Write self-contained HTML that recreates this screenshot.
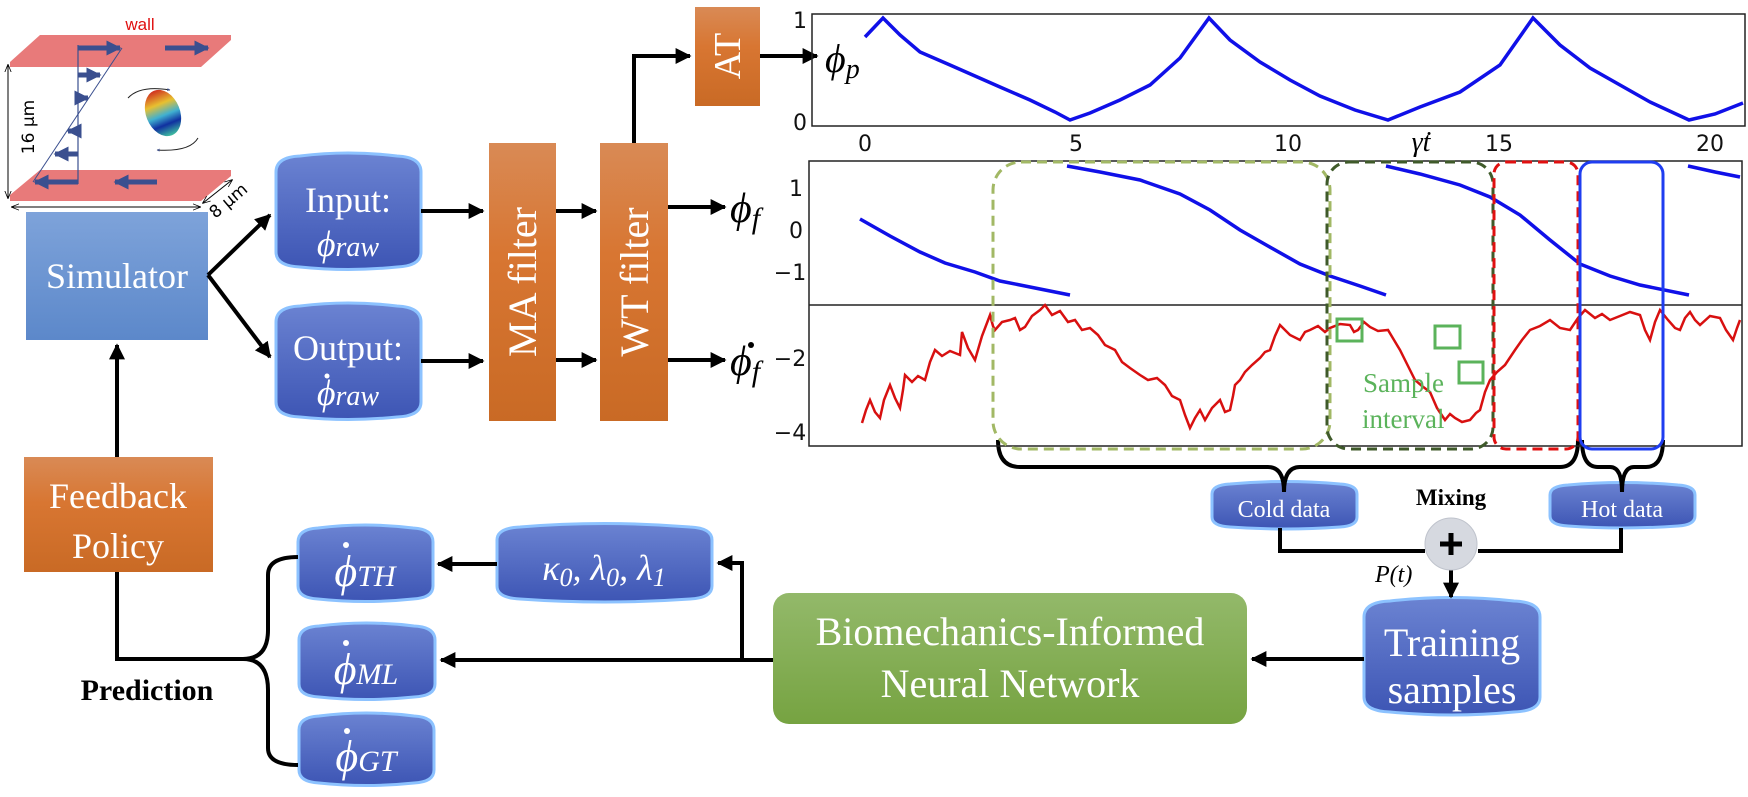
<!DOCTYPE html>
<html><head><meta charset="utf-8"><style>
html,body{margin:0;padding:0;background:#fff;}
svg{display:block;}
.w{fill:#fff;font-family:"Liberation Serif",serif;}
.m{font-family:"Liberation Serif",serif;font-style:italic;}
.ax{font-family:"DejaVu Sans","Liberation Sans",sans-serif;font-size:22px;fill:#111;}
</style></head><body>
<svg width="1748" height="797" viewBox="0 0 1748 797" xmlns="http://www.w3.org/2000/svg">
<defs>
<linearGradient id="cyl" x1="0" y1="0" x2="0" y2="1"><stop offset="0" stop-color="#6b83d2"/><stop offset="1" stop-color="#3d55b4"/></linearGradient>
<linearGradient id="org" x1="0" y1="0" x2="0" y2="1"><stop offset="0" stop-color="#d98a55"/><stop offset="0.4" stop-color="#d87632"/><stop offset="1" stop-color="#c96a25"/></linearGradient>
<linearGradient id="sim" x1="0" y1="0" x2="0" y2="1"><stop offset="0" stop-color="#7ea3da"/><stop offset="1" stop-color="#5c88ca"/></linearGradient>
<linearGradient id="grn" x1="0" y1="0" x2="0" y2="1"><stop offset="0" stop-color="#93b96a"/><stop offset="1" stop-color="#76a341"/></linearGradient>
<linearGradient id="cell" x1="0" y1="0" x2="0" y2="1"><stop offset="0" stop-color="#d03020"/><stop offset="0.3" stop-color="#e8c030"/><stop offset="0.55" stop-color="#40b0d0"/><stop offset="0.75" stop-color="#1030a0"/><stop offset="1" stop-color="#40c0a0"/></linearGradient>
<marker id="ah" viewBox="0 0 10 10" refX="9" refY="5" markerWidth="4" markerHeight="4" orient="auto-start-reverse"><path d="M0,0 L10,5 L0,10 z" fill="#000"/></marker>
<marker id="ab" viewBox="0 0 10 10" refX="9" refY="5" markerWidth="3" markerHeight="3" orient="auto"><path d="M0,0 L10,5 L0,10 z" fill="#3a4f8f"/></marker>
<marker id="at" viewBox="0 0 10 10" refX="9" refY="5" markerWidth="8" markerHeight="8" orient="auto-start-reverse"><path d="M0,1 L10,5 L0,9" fill="none" stroke="#000" stroke-width="1"/></marker>
</defs>

<text x="140" y="30" fill="#e01010" font-family="Liberation Sans,sans-serif" font-size="17" text-anchor="middle">wall</text>
<polygon points="10,62 40,35 231,35 231,40 201,67 10,67" fill="#e87a7a"/>
<polygon points="10,195 40,170 231,170 231,176 201,201 10,201" fill="#e87a7a"/>
<g stroke="#3a4f8f" stroke-width="5" marker-end="url(#ab)">
<line x1="78" y1="48" x2="120" y2="48"/><line x1="165" y1="48" x2="208" y2="48"/>
<line x1="78" y1="75" x2="100" y2="75"/><line x1="78" y1="98" x2="88" y2="98"/>
<line x1="78" y1="131" x2="68" y2="131"/><line x1="78" y1="154" x2="55" y2="154"/>
<line x1="78" y1="182" x2="35" y2="182"/><line x1="157" y1="182" x2="115" y2="182"/>
</g>
<line x1="78" y1="45" x2="78" y2="184" stroke="#3a4f8f" stroke-width="1.2"/>
<line x1="122" y1="48" x2="33" y2="182" stroke="#3a4f8f" stroke-width="1"/>
<line x1="8" y1="65" x2="8" y2="198" stroke="#000" stroke-width="1" marker-start="url(#at)" marker-end="url(#at)"/>
<line x1="12" y1="207" x2="200" y2="207" stroke="#000" stroke-width="1" marker-start="url(#at)" marker-end="url(#at)"/>
<line x1="203" y1="203" x2="232" y2="180" stroke="#000" stroke-width="1" marker-start="url(#at)" marker-end="url(#at)"/>
<text transform="translate(34,127) rotate(-90)" font-family="DejaVu Sans,sans-serif" font-size="17" text-anchor="middle">16 μm</text>
<text transform="translate(232,205) rotate(-40)" font-family="DejaVu Sans,sans-serif" font-size="17" text-anchor="middle">8 μm</text>
<ellipse cx="163" cy="113" rx="17" ry="24" transform="rotate(-22 163 113)" fill="url(#cell)"/>
<path d="M128,98 Q140,85 170,90" fill="none" stroke="#222" stroke-width="1" marker-end="url(#ab)"/>
<path d="M198,138 Q190,152 157,150" fill="none" stroke="#222" stroke-width="1" marker-end="url(#ab)"/>

<rect x="26" y="212" width="182" height="128" fill="url(#sim)"/>
<text x="117" y="288" class="w" font-size="36" text-anchor="middle">Simulator</text>
<g stroke="#000" stroke-width="4" fill="none">
<line x1="208" y1="275" x2="270" y2="215" marker-end="url(#ah)"/>
<line x1="208" y1="275" x2="270" y2="357" marker-end="url(#ah)"/>
</g>

<g fill="url(#cyl)" stroke="#8cc2ff" stroke-width="3">
<path d="M276,172 Q276,157 300,156 Q348,150 397,156 Q421,157 421,172 L421,252 Q421,266 397,267 Q348,272 300,267 Q276,266 276,252 Z"/>
<path d="M276,322 Q276,307 300,306 Q348,300 397,306 Q421,307 421,322 L421,402 Q421,416 397,417 Q348,422 300,417 Q276,416 276,402 Z"/>
<path d="M298,542 Q298,529 318,528 Q365,522 413,528 Q433,529 433,542 L433,586 Q433,598 413,599 Q365,604 318,599 Q298,598 298,586 Z"/>
<path d="M299,640 Q299,627 319,626 Q366,620 414,626 Q435,627 435,640 L435,684 Q435,696 414,697 Q366,702 319,697 Q299,696 299,684 Z"/>
<path d="M299,730 Q299,717 319,716 Q366,710 414,716 Q434,717 434,730 L434,770 Q434,782 414,783 Q366,788 319,783 Q299,782 299,770 Z"/>
<path d="M497,540 Q497,528 520,527 Q604,520 690,527 Q712,528 712,540 L712,586 Q712,598 690,599 Q604,605 520,599 Q497,598 497,586 Z"/>
<path d="M1212,494 Q1212,485 1230,484 Q1284,479 1340,484 Q1357,485 1357,494 L1357,517 Q1357,526 1340,527 Q1284,531 1230,527 Q1212,526 1212,517 Z"/>
<path d="M1550,495 Q1550,486 1568,485 Q1622,480 1678,485 Q1695,486 1695,495 L1695,516 Q1695,525 1678,526 Q1622,530 1568,526 Q1550,525 1550,516 Z"/>
<path d="M1364,617 Q1364,602 1390,601 Q1452,594 1514,601 Q1540,602 1540,617 L1540,697 Q1540,711 1514,712 Q1452,718 1390,712 Q1364,711 1364,697 Z"/>
</g>
<text x="348" y="212" class="w" font-size="36" text-anchor="middle">Input:</text>
<text x="348" y="256" class="w m" font-size="36" text-anchor="middle">ϕ<tspan font-size="28">raw</tspan></text>
<text x="348" y="360" class="w" font-size="36" text-anchor="middle">Output:</text>
<text x="348" y="405" class="w m" font-size="36" text-anchor="middle">ϕ<tspan font-size="28">raw</tspan></text>
<circle cx="327" cy="376" r="2.5" fill="#fff"/>
<text x="365" y="586" class="w m" font-size="44" text-anchor="middle">ϕ<tspan font-size="30">TH</tspan></text>
<circle cx="346" cy="545" r="3" fill="#fff"/>
<text x="366" y="684" class="w m" font-size="44" text-anchor="middle">ϕ<tspan font-size="30">ML</tspan></text>
<circle cx="346" cy="643" r="3" fill="#fff"/>
<text x="366" y="771" class="w m" font-size="44" text-anchor="middle">ϕ<tspan font-size="30">GT</tspan></text>
<circle cx="347" cy="731" r="3" fill="#fff"/>
<text x="604" y="580" class="w m" font-size="36" text-anchor="middle">κ<tspan font-size="26" dy="6">0</tspan><tspan dy="-6">, λ</tspan><tspan font-size="26" dy="6">0</tspan><tspan dy="-6">, λ</tspan><tspan font-size="26" dy="6">1</tspan></text>
<text x="1284" y="517" class="w" font-size="24" text-anchor="middle">Cold data</text>
<text x="1622" y="517" class="w" font-size="24" text-anchor="middle">Hot data</text>
<text x="1452" y="656" class="w" font-size="40" text-anchor="middle">Training</text>
<text x="1452" y="703" class="w" font-size="40" text-anchor="middle">samples</text>

<rect x="489" y="143" width="67" height="278" fill="url(#org)"/>
<rect x="600" y="143" width="68" height="278" fill="url(#org)"/>
<rect x="695" y="7" width="65" height="99" fill="url(#org)"/>
<text transform="translate(536,282) rotate(-90)" class="w" font-size="40" text-anchor="middle">MA filter</text>
<text transform="translate(648,282) rotate(-90)" class="w" font-size="40" text-anchor="middle">WT filter</text>
<text transform="translate(740,56) rotate(-90)" class="w" font-size="38" text-anchor="middle">AT</text>
<rect x="24" y="457" width="189" height="115" fill="url(#org)"/>
<text x="118" y="508" class="w" font-size="36" text-anchor="middle">Feedback</text>
<text x="118" y="558" class="w" font-size="36" text-anchor="middle">Policy</text>

<g stroke="#000" stroke-width="4" fill="none">
<line x1="421" y1="211" x2="483" y2="211" marker-end="url(#ah)"/>
<line x1="421" y1="361" x2="483" y2="361" marker-end="url(#ah)"/>
<line x1="556" y1="211" x2="596" y2="211" marker-end="url(#ah)"/>
<line x1="556" y1="360" x2="596" y2="360" marker-end="url(#ah)"/>
<line x1="668" y1="207" x2="725" y2="207" marker-end="url(#ah)"/>
<line x1="668" y1="360" x2="725" y2="360" marker-end="url(#ah)"/>
<polyline points="634,143 634,56 690,56" marker-end="url(#ah)"/>
<line x1="760" y1="56" x2="817" y2="56" marker-end="url(#ah)"/>
<line x1="117" y1="457" x2="117" y2="345" marker-end="url(#ah)"/>
<polyline points="117,572 117,659 243,659"/>
<path d="M243,659 Q268,659 268,630 L268,575 Q268,557 298,557"/>
<path d="M243,659 Q268,659 268,690 L268,748 Q268,765 298,765"/>
<line x1="773" y1="660" x2="441" y2="660" marker-end="url(#ah)"/>
<polyline points="742,660 742,563 718,563" marker-end="url(#ah)"/>
<line x1="497" y1="564" x2="438" y2="564" marker-end="url(#ah)"/>
<line x1="1364" y1="659" x2="1252" y2="659" marker-end="url(#ah)"/>
<line x1="1451" y1="570" x2="1451" y2="597" marker-end="url(#ah)"/>
<polyline points="1280,528 1280,551 1425,551"/>
<polyline points="1621,528 1621,551 1478,551"/>
<path d="M998,440 Q998,467 1020,467 L1268,467 Q1284,467 1284,492 Q1284,467 1300,467 L1560,467 Q1578,467 1578,440"/>
<path d="M1582,440 Q1582,467 1598,467 L1610,467 Q1622,467 1622,492 Q1622,467 1634,467 L1646,467 Q1663,467 1663,440"/>
</g>
<text x="730" y="222" class="m" font-size="42">ϕ<tspan font-size="30" dy="6">f</tspan></text>
<text x="730" y="375" class="m" font-size="42">ϕ<tspan font-size="30" dy="6">f</tspan></text>
<circle cx="751" cy="345" r="3"/>
<text x="147" y="700" font-family="Liberation Serif,serif" font-weight="bold" font-size="30" text-anchor="middle">Prediction</text>
<text x="1451" y="505" font-family="Liberation Serif,serif" font-weight="bold" font-size="23" text-anchor="middle">Mixing</text>
<circle cx="1451" cy="544" r="26" fill="#d6d9e0" stroke="#bfc3cc" stroke-width="1"/>
<path d="M1440,544 h22 M1451,533 v22" stroke="#000" stroke-width="5"/>
<text x="1375" y="582" class="m" font-size="24">P(t)</text>

<rect x="773" y="593" width="474" height="131" rx="16" fill="url(#grn)"/>
<text x="1010" y="645" class="w" font-size="40" text-anchor="middle">Biomechanics-Informed</text>
<text x="1010" y="697" class="w" font-size="40" text-anchor="middle">Neural Network</text>

<rect x="812" y="14" width="933" height="112" fill="none" stroke="#222" stroke-width="1.5"/>
<text x="800" y="28" class="ax" text-anchor="middle">1</text>
<text x="800" y="130" class="ax" text-anchor="middle">0</text>
<text x="865" y="151" class="ax" text-anchor="middle">0</text>
<text x="1076" y="151" class="ax" text-anchor="middle">5</text>
<text x="1288" y="151" class="ax" text-anchor="middle">10</text>
<text x="1499" y="151" class="ax" text-anchor="middle">15</text>
<text x="1710" y="151" class="ax" text-anchor="middle">20</text>
<text x="1421" y="151" class="m" font-size="28" text-anchor="middle">γ̇t</text>
<text x="825" y="72" class="m" font-size="40">ϕ<tspan font-size="28" dy="6">p</tspan></text>
<polyline fill="none" stroke="#1010e8" stroke-width="3.5" points="865,37 883,18 900,35 920,52 950,65 975,76 1000,87 1030,100 1055,112 1070,120 1090,113 1120,100 1150,85 1180,58 1209,18 1230,40 1260,62 1290,80 1320,96 1355,110 1388,120 1420,107 1460,92 1500,65 1533,18 1560,45 1590,68 1620,85 1650,102 1689,120 1715,114 1743,103"/>

<rect x="809" y="161" width="933" height="285" fill="none" stroke="#222" stroke-width="1.5"/>
<line x1="809" y1="305" x2="1742" y2="305" stroke="#222" stroke-width="1.5"/>
<text x="796" y="196" class="ax" text-anchor="middle">1</text>
<text x="796" y="238" class="ax" text-anchor="middle">0</text>
<text x="790" y="280" class="ax" text-anchor="middle">−1</text>
<text x="790" y="366" class="ax" text-anchor="middle">−2</text>
<text x="790" y="440" class="ax" text-anchor="middle">−4</text>
<g fill="none" stroke="#1010e8" stroke-width="3.5">
<polyline points="860,219 890,236 920,252 945,263 975,272 1000,281 1030,287 1070,295"/>
<polyline points="1067,166 1100,172 1140,180 1180,194 1210,210 1240,230 1268,246 1300,264 1330,276 1360,286 1386,295"/>
<polyline points="1386,166 1420,174 1460,185 1490,197 1520,215 1550,240 1580,264 1610,276 1640,285 1689,295"/>
<polyline points="1688,166 1715,172 1740,177"/>
</g>
<polyline fill="none" stroke="#d81010" stroke-width="2.5" points="862,423 866,410 870,400 875,412 880,418 884,400 890,385 895,398 900,408 903,390 905,375 912,382 918,376 925,380 930,362 935,350 942,356 950,351 960,355 962,332 968,348 975,360 982,336 990,315 993,326 995,330 1002,322 1010,320 1015,318 1020,330 1025,327 1032,316 1040,310 1045,305 1052,315 1060,311 1068,322 1075,320 1082,330 1090,328 1098,335 1105,345 1115,350 1122,362 1130,368 1140,375 1148,380 1157,378 1165,385 1172,396 1180,400 1185,415 1190,428 1195,418 1200,410 1205,420 1212,408 1220,400 1225,412 1230,410 1233,396 1235,385 1240,380 1245,372 1252,365 1260,358 1265,352 1270,350 1275,336 1280,325 1290,335 1300,340 1305,332 1310,330 1318,326 1325,332 1330,328 1340,324 1350,325 1354,332 1358,330 1364,322 1370,327 1378,331 1388,330 1394,340 1400,350 1408,366 1415,380 1422,386 1430,392 1437,408 1445,420 1450,414 1455,418 1462,422 1470,420 1476,413 1480,410 1485,392 1490,380 1497,372 1505,365 1515,350 1522,340 1530,330 1540,326 1550,320 1560,328 1570,330 1578,318 1585,310 1595,318 1602,314 1610,320 1620,316 1630,312 1640,315 1645,330 1650,340 1655,322 1660,310 1668,320 1675,328 1680,330 1685,318 1690,312 1695,320 1700,325 1710,316 1720,318 1726,330 1733,340 1737,328 1740,320"/>
<g fill="none" stroke-width="3" stroke-dasharray="10,6">
<rect x="993" y="162" width="337" height="287" rx="28" stroke="#a2b865"/>
<rect x="1327" y="162" width="166" height="287" rx="22" stroke="#3f5a2a"/>
<rect x="1494" y="162" width="84" height="287" rx="12" stroke="#e01010"/>
</g>
<rect x="1580" y="162" width="83" height="287" rx="12" fill="none" stroke="#1f3df0" stroke-width="3"/>
<g fill="none" stroke="#5bb35b" stroke-width="3">
<rect x="1337" y="319" width="25" height="22"/>
<rect x="1435" y="326" width="25" height="22"/>
<rect x="1459" y="362" width="24" height="21"/>
</g>
<text x="1363" y="392" fill="#5bb35b" font-family="Liberation Serif,serif" font-size="27">Sample</text>
<text x="1362" y="428" fill="#5bb35b" font-family="Liberation Serif,serif" font-size="27">interval</text>
</svg>
</body></html>
